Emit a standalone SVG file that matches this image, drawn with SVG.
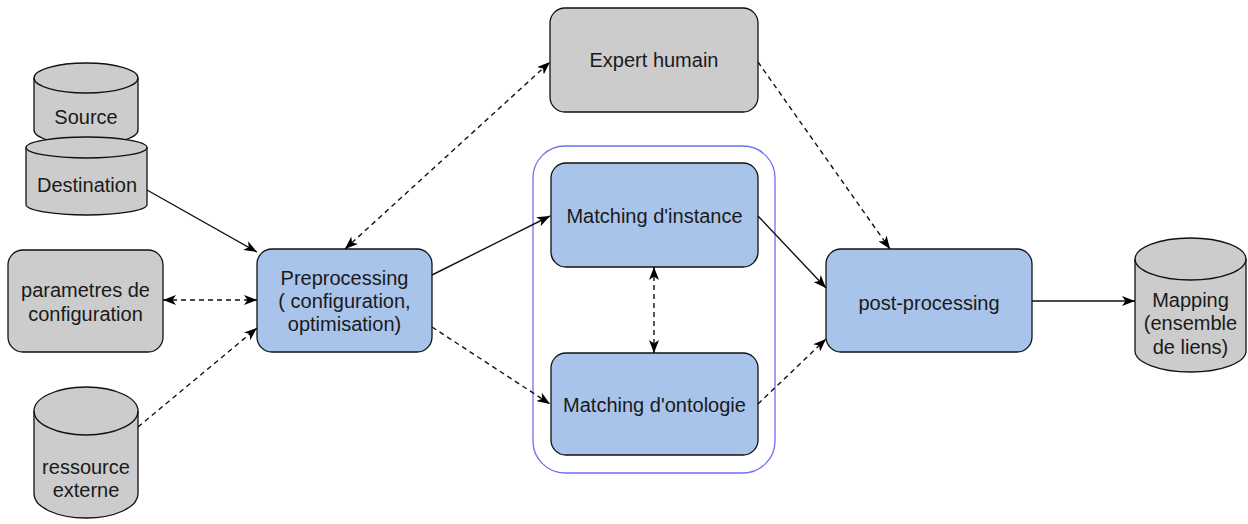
<svg xmlns="http://www.w3.org/2000/svg" width="1248" height="524" viewBox="0 0 1248 524">
<style>
.g{fill:#cccccc;stroke:#111;stroke-width:1.3}
.b{fill:#a9c4eb;stroke:#111;stroke-width:1.3}
.t{font-family:"Liberation Sans",Arial,sans-serif;font-size:20px;fill:#1a1a1a;text-anchor:middle}
.c{fill:none;stroke:#111;stroke-width:1.4}
.d{stroke-dasharray:5 4}
</style>
<defs>
<marker id="arr" viewBox="0 0 13 10" refX="13" refY="5" markerWidth="13" markerHeight="10" markerUnits="userSpaceOnUse" orient="auto-start-reverse">
<path d="M0,0 L13,5 L0,10 L3.5,5 Z" fill="#000"/>
</marker>
</defs>
<rect width="1248" height="524" fill="#fff"/>
<g id="container">
<rect x="533" y="146" width="242" height="327" rx="32" fill="none" stroke="#7070f0" stroke-width="1.3"/>
</g>
<g id="source">
<path class="g" d="M34,78 A52,15 0 0 1 138,78 L138,130 A52,15 0 0 1 34,130 Z"/>
<path class="c" d="M34,78 A52,15 0 0 0 138,78"/>
<text class="t" x="86" y="124">Source</text>
</g>
<g id="destination">
<path class="g" d="M26,147.5 A60.5,10.5 0 0 1 147,147.5 L147,204.5 A60.5,10.5 0 0 1 26,204.5 Z"/>
<path class="c" d="M26,147.5 A60.5,10.5 0 0 0 147,147.5"/>
<text class="t" x="87" y="192">Destination</text>
</g>
<g id="parametres">
<rect class="g" x="8" y="250" width="155" height="102" rx="15"/>
<text class="t" x="85.5" y="297">parametres de</text>
<text class="t" x="85.5" y="321">configuration</text>
</g>
<g id="ressource">
<path class="g" d="M34,411 A52,24 0 0 1 138,411 L138,494 A52,24 0 0 1 34,494 Z"/>
<path class="c" d="M34,411 A52,24 0 0 0 138,411"/>
<text class="t" x="86" y="474">ressource</text>
<text class="t" x="86" y="497">externe</text>
</g>
<g id="preprocessing">
<rect class="b" x="257" y="249" width="175" height="103" rx="15"/>
<text class="t" x="344.5" y="285">Preprocessing</text>
<text class="t" x="344.5" y="308">( configuration,</text>
<text class="t" x="344.5" y="331">optimisation)</text>
</g>
<g id="expert">
<rect class="g" x="550" y="8" width="208" height="104" rx="15"/>
<text class="t" x="654" y="67">Expert humain</text>
</g>
<g id="matching-instance">
<rect class="b" x="551" y="163" width="207" height="104" rx="15"/>
<text class="t" x="654.5" y="223">Matching d'instance</text>
</g>
<g id="matching-ontologie">
<rect class="b" x="551" y="353" width="207" height="102" rx="15"/>
<text class="t" x="654.5" y="412">Matching d'ontologie</text>
</g>
<g id="postprocessing">
<rect class="b" x="826" y="249" width="206" height="103" rx="15"/>
<text class="t" x="929" y="310">post-processing</text>
</g>
<g id="mapping">
<path class="g" d="M1135,259 A55.5,21 0 0 1 1246,259 L1246,351 A55.5,21 0 0 1 1135,351 Z"/>
<path class="c" d="M1135,259 A55.5,21 0 0 0 1246,259"/>
<text class="t" x="1190.5" y="307">Mapping</text>
<text class="t" x="1190.5" y="330">(ensemble</text>
<text class="t" x="1190.5" y="354">de liens)</text>
</g>
<g id="connectors">
<line class="c" x1="147" y1="190" x2="257" y2="252" marker-end="url(#arr)"/>
<line class="c d" x1="163" y1="300" x2="257" y2="300" marker-start="url(#arr)" marker-end="url(#arr)"/>
<line class="c d" x1="138" y1="427" x2="257" y2="328" marker-end="url(#arr)"/>
<line class="c d" x1="345" y1="249" x2="550" y2="62" marker-start="url(#arr)" marker-end="url(#arr)"/>
<line class="c" x1="432" y1="275" x2="550" y2="216" marker-end="url(#arr)"/>
<line class="c d" x1="432" y1="327" x2="550" y2="404" marker-end="url(#arr)"/>
<line class="c d" x1="654" y1="267" x2="654" y2="353" marker-start="url(#arr)" marker-end="url(#arr)"/>
<line class="c d" x1="758" y1="62" x2="890" y2="249" marker-end="url(#arr)"/>
<line class="c" x1="758" y1="216" x2="826" y2="288" marker-end="url(#arr)"/>
<line class="c d" x1="758" y1="404" x2="826" y2="339" marker-end="url(#arr)"/>
<line class="c" x1="1032" y1="301" x2="1135" y2="301" marker-end="url(#arr)"/>
</g>
</svg>
